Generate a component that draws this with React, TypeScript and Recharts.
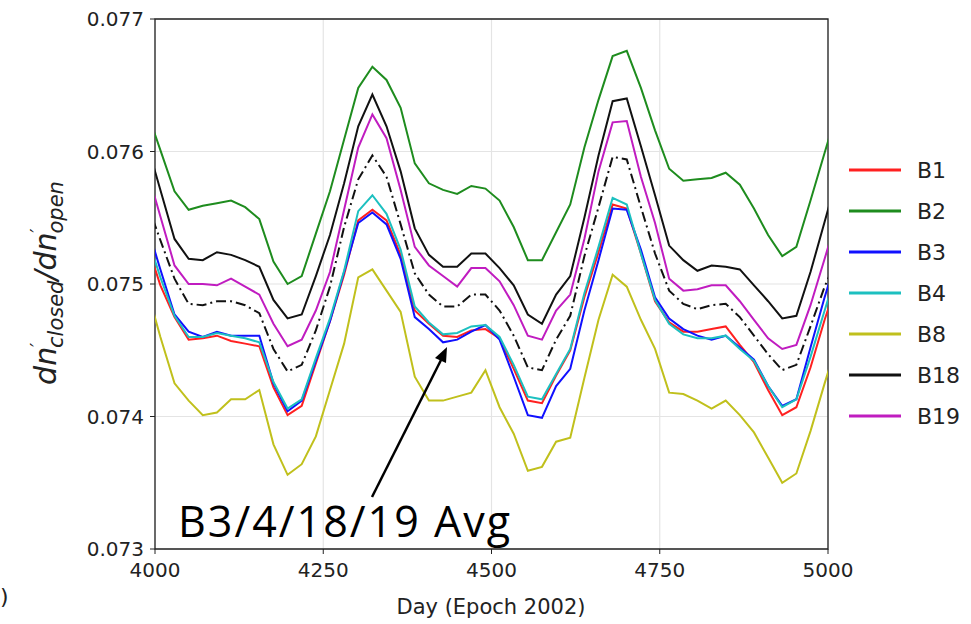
import React from "react";
import {
  LineChart,
  Line,
  XAxis,
  YAxis,
  CartesianGrid,
  ReferenceArea,
} from "recharts";

// sample days (about every 21 days; first and last points sit just outside the x-limits)
const days = [
  3987, 4008, 4029, 4050, 4071, 4092, 4113, 4134, 4155, 4176, 4197, 4218, 4239,
  4260, 4281, 4302, 4323, 4344, 4365, 4386, 4407, 4428, 4449, 4470, 4491, 4512,
  4533, 4554, 4575, 4596, 4617, 4638, 4659, 4680, 4701, 4722, 4743, 4764, 4785,
  4806, 4827, 4848, 4869, 4890, 4911, 4932, 4953, 4974, 4995, 5016,
];

const b1 = [
  0.07532, 0.07499, 0.07475, 0.07458, 0.07459, 0.07461, 0.07457, 0.07455, 0.07453, 0.07422,
  0.07401, 0.07408, 0.0744, 0.07472, 0.07507, 0.07548, 0.07556, 0.07548, 0.07522, 0.0748,
  0.0747, 0.07461, 0.0746, 0.07465, 0.07466, 0.07459, 0.07436, 0.07412, 0.0741, 0.07431,
  0.0745, 0.0749, 0.07524, 0.0756, 0.07557, 0.07523, 0.07487, 0.07471, 0.07464, 0.07464,
  0.07466, 0.07468, 0.07454, 0.07441, 0.0742, 0.07401, 0.07407, 0.07437, 0.07473, 0.07505,
];
const b2 = [
  0.07632, 0.07601, 0.0757, 0.07556, 0.07559, 0.07561, 0.07563, 0.07558, 0.07549, 0.07517,
  0.075, 0.07506, 0.07538, 0.0757, 0.07609, 0.07648, 0.07664, 0.07654, 0.07633, 0.07591,
  0.07576, 0.07571, 0.07568, 0.07574, 0.07572, 0.07563, 0.07543, 0.07518, 0.07518, 0.07539,
  0.0756, 0.07603, 0.07639, 0.07672, 0.07676, 0.07648, 0.07616, 0.07587, 0.07578, 0.07579,
  0.0758, 0.07584, 0.07575, 0.07557, 0.07537, 0.07521, 0.07528, 0.07563, 0.07599, 0.07635,
];
const b3 = [
  0.07546, 0.07511, 0.07477, 0.07464, 0.0746, 0.07464, 0.07461, 0.07461, 0.07461, 0.07425,
  0.07404, 0.07412, 0.07442, 0.07472, 0.07509, 0.07546, 0.07554, 0.07545, 0.07519, 0.07475,
  0.07466, 0.07456, 0.07458, 0.07464, 0.07469, 0.07458, 0.0743, 0.07401, 0.07399, 0.07423,
  0.07436, 0.0748, 0.07518, 0.07557, 0.07556, 0.07526, 0.0749, 0.07474, 0.07466, 0.07461,
  0.07458, 0.07461, 0.07452, 0.07443, 0.07423, 0.07408, 0.07413, 0.07452, 0.0749, 0.07525,
];
const b4 = [
  0.07538, 0.07505, 0.07476, 0.0746, 0.0746, 0.07463, 0.07461, 0.07459, 0.07456, 0.07426,
  0.07406, 0.07413, 0.07444, 0.07474, 0.0751, 0.07555, 0.07567, 0.07553, 0.07526, 0.07483,
  0.07471, 0.07462, 0.07463, 0.07468, 0.07469, 0.0746, 0.07439, 0.07415, 0.07413, 0.07432,
  0.07451, 0.07493, 0.07528, 0.07565, 0.0756, 0.07523, 0.07488, 0.0747, 0.07462, 0.07459,
  0.07459, 0.07461, 0.07451, 0.07442, 0.07423, 0.07407, 0.07413, 0.07445, 0.0748, 0.07515,
];
const b8 = [
  0.07498, 0.0746, 0.07425, 0.07412, 0.07401, 0.07403, 0.07413, 0.07413, 0.0742, 0.07379,
  0.07356, 0.07364, 0.07385, 0.0742, 0.07455, 0.07505, 0.07511, 0.07495, 0.07479, 0.0743,
  0.07412, 0.07412, 0.07415, 0.07418, 0.07435, 0.07407, 0.07387, 0.07359, 0.07362, 0.07381,
  0.07384, 0.07429, 0.07473, 0.07507, 0.07498, 0.07473, 0.07451, 0.07418, 0.07417, 0.07412,
  0.07406, 0.07412, 0.07401, 0.07388, 0.07369, 0.0735, 0.07357, 0.07389, 0.07425, 0.0746,
];
const b18 = [
  0.07608, 0.07571, 0.07534, 0.07519, 0.07518, 0.07524, 0.07522, 0.07518, 0.07513, 0.07488,
  0.07474, 0.07477, 0.07506, 0.07537, 0.07576, 0.07619, 0.07643, 0.07619, 0.07585, 0.07542,
  0.07522, 0.07513, 0.07513, 0.07523, 0.07523, 0.07512, 0.07499, 0.07477, 0.0747, 0.07492,
  0.07506, 0.0755, 0.07597, 0.07638, 0.0764, 0.07604, 0.07567, 0.07529, 0.07518, 0.0751,
  0.07514, 0.07513, 0.07511, 0.07499, 0.07487, 0.07474, 0.07476, 0.07509, 0.07547, 0.07585,
];
const b19 = [
  0.07588, 0.07551, 0.07514, 0.075, 0.075, 0.07499, 0.07504, 0.07498, 0.07492, 0.0747,
  0.07453, 0.07458, 0.0748, 0.07509, 0.07556, 0.07603, 0.07628, 0.0761, 0.07571, 0.07528,
  0.07514, 0.07506, 0.07498, 0.07512, 0.07512, 0.07502, 0.07484, 0.07461, 0.07458, 0.0748,
  0.07492, 0.07534, 0.07585, 0.07622, 0.07623, 0.07581, 0.07546, 0.07504, 0.07495, 0.07496,
  0.07499, 0.07499, 0.07487, 0.07473, 0.07459, 0.07451, 0.07454, 0.07484, 0.07519, 0.07555,
];
const avg = [
  0.07563, 0.07533, 0.07504, 0.07485, 0.07484, 0.07487, 0.07487, 0.07484, 0.07478, 0.07451,
  0.07434, 0.07439, 0.07465, 0.07498, 0.07543, 0.07579, 0.07597, 0.07581, 0.07545, 0.07508,
  0.07492, 0.07483, 0.07483, 0.07492, 0.07492, 0.0748, 0.07461, 0.07437, 0.07435, 0.07458,
  0.07476, 0.07521, 0.07558, 0.07596, 0.07594, 0.07558, 0.07523, 0.07495, 0.07485, 0.07481,
  0.07484, 0.07485, 0.07475, 0.07461, 0.07447, 0.07435, 0.07439, 0.07468, 0.07498, 0.07522,
];

const xTicks = [4000, 4250, 4500, 4750, 5000];
const yTicks = [0.073, 0.074, 0.075, 0.076, 0.077];

const series = [
  { key: "b1", name: "B1", color: "#ff2020" },
  { key: "b2", name: "B2", color: "#1e8c1e" },
  { key: "b3", name: "B3", color: "#1010ff" },
  { key: "b4", name: "B4", color: "#1cc0c0" },
  { key: "b8", name: "B8", color: "#c0c01c" },
  { key: "b18", name: "B18", color: "#111111" },
  { key: "b19", name: "B19", color: "#c01cc0" },
];

const data = days.map((d, i) => ({
  day: d,
  b1: b1[i],
  b2: b2[i],
  b3: b3[i],
  b4: b4[i],
  b8: b8[i],
  b18: b18[i],
  b19: b19[i],
  avg: avg[i],
}));

const tickStyle = { fill: "#222", fontSize: 20, fontFamily: "DejaVu Sans" };

export default function App() {
  return (
    <div style={{ position: "absolute", left: 0, top: 0, width: 971, height: 624, background: "#fff" }}>
      <LineChart
        width={971}
        height={624}
        data={data}
        margin={{ top: 19, right: 143, bottom: 45, left: 95 }}
      >
        <CartesianGrid stroke="#e4e4e4" strokeWidth={1.2} />
        <XAxis
          dataKey="day"
          type="number"
          domain={[4000, 5000]}
          ticks={xTicks}
          allowDataOverflow
          height={30}
          axisLine={false}
          tickLine={{ stroke: "#222" }}
          tickSize={5}
          tickMargin={9}
          tick={tickStyle}
        />
        <YAxis
          type="number"
          domain={[0.073, 0.077]}
          ticks={yTicks}
          allowDataOverflow
          width={60}
          axisLine={false}
          tickLine={{ stroke: "#222" }}
          tickSize={5}
          tickMargin={6}
          tick={tickStyle}
          tickFormatter={(v: number) => v.toFixed(3)}
        />
        {series.map((s) => (
          <Line
            key={s.key}
            type="linear"
            dataKey={s.key}
            stroke={s.color}
            strokeWidth={2}
            dot={false}
            isAnimationActive={false}
          />
        ))}
        <Line
          type="linear"
          dataKey="avg"
          stroke="#111"
          strokeWidth={2}
          strokeDasharray="10 4 2 4"
          dot={false}
          isAnimationActive={false}
        />
        <ReferenceArea x1={4000} x2={5000} y1={0.073} y2={0.077} fill="none" stroke="#222" strokeWidth={1.3} />
      </LineChart>

      <svg
        width={971}
        height={624}
        style={{ position: "absolute", left: 0, top: 0, pointerEvents: "none" }}
      >
        {/* y-axis label */}
        <text
          transform="translate(56 283) rotate(-90)"
          textAnchor="middle"
          fontFamily="DejaVu Sans"
          fontStyle="italic"
          fontSize={30}
          fill="#222"
        >
          <tspan>dn</tspan>
          <tspan dy={-13} fontSize={17}>′</tspan>
          <tspan dx={-5} dy={20} fontSize={21}>closed</tspan>
          <tspan dy={-7} fontSize={30}>/dn</tspan>
          <tspan dy={-13} fontSize={17}>′</tspan>
          <tspan dx={-5} dy={20} fontSize={21}>open</tspan>
        </text>

        {/* x-axis label */}
        <text x={491} y={614} textAnchor="middle" fontFamily="DejaVu Sans" fontSize={21} fill="#222">
          Day (Epoch 2002)
        </text>

        {/* annotation */}
        <text
          x={178}
          y={537}
          fontFamily="Open Sans"
          fontSize={43}
          fill="#000"
          textLength={332}
          lengthAdjust="spacing"
        >
          B3/4/18/19 Avg
        </text>
        <line x1={372} y1={497} x2={441} y2={360} stroke="#000" strokeWidth={2.5} />
        <polygon points="447,347 446,363 435,358" fill="#000" />

        {/* stray edge glyph */}
        <text x={0} y={604} fontFamily="DejaVu Sans" fontSize={22} fill="#222">)</text>

        {/* legend */}
        {series.map((s, i) => {
          const y = 170 + i * 41;
          return (
            <g key={s.key}>
              <line x1={849} x2={901} y1={y} y2={y} stroke={s.color} strokeWidth={3} />
              <text
                x={917}
                y={y}
                dominantBaseline="central"
                fontFamily="DejaVu Sans"
                fontSize={22}
                fill="#222"
              >
                {s.name}
              </text>
            </g>
          );
        })}
      </svg>
    </div>
  );
}
